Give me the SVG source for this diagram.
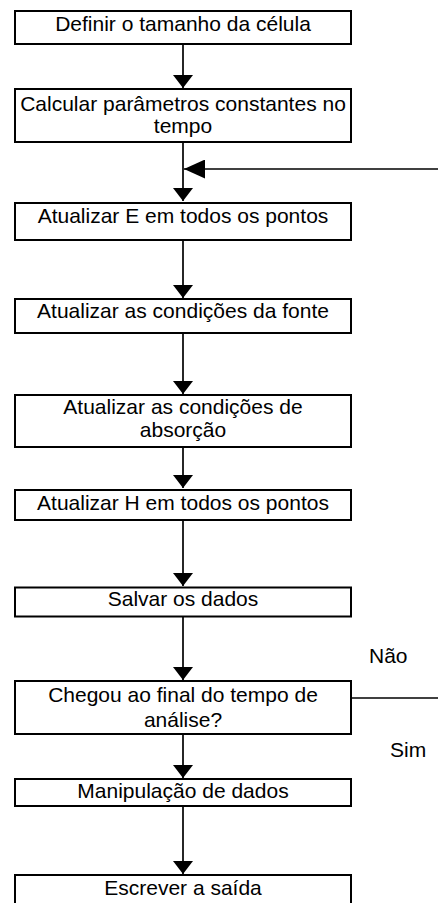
<svg xmlns="http://www.w3.org/2000/svg" width="438" height="903" viewBox="0 0 438 903">
<style>
.box{fill:#fff;stroke:#000;stroke-width:2}
.t{font-family:"Liberation Sans",Arial,sans-serif;font-size:21px;fill:#000;text-anchor:middle}
.l{font-family:"Liberation Sans",Arial,sans-serif;font-size:21px;fill:#000}
.c{stroke:#000;stroke-width:1.7;fill:none}
</style>
<defs>
<marker id="ah" viewBox="0 0 13 20" refX="13" refY="10" markerWidth="13" markerHeight="20" markerUnits="userSpaceOnUse" orient="auto"><path d="M0,0 L13,10 L0,20 z" fill="#000"/></marker>
<marker id="ahl" viewBox="0 0 21 19" refX="21" refY="9.5" markerWidth="21" markerHeight="19" markerUnits="userSpaceOnUse" orient="auto"><path d="M0,0 L21,9.5 L0,19 z" fill="#000"/></marker>
</defs>
<g id="connectors">
<line class="c" x1="183" y1="45" x2="183" y2="88" marker-end="url(#ah)"/>
<line class="c" x1="183" y1="143" x2="183" y2="201" marker-end="url(#ah)"/>
<line class="c" x1="440" y1="169" x2="184" y2="169" marker-end="url(#ahl)"/>
<line class="c" x1="183" y1="240" x2="183" y2="298" marker-end="url(#ah)"/>
<line class="c" x1="183" y1="333" x2="183" y2="394" marker-end="url(#ah)"/>
<line class="c" x1="183" y1="448" x2="183" y2="488" marker-end="url(#ah)"/>
<line class="c" x1="183" y1="521" x2="183" y2="586" marker-end="url(#ah)"/>
<line class="c" x1="183" y1="617" x2="183" y2="680" marker-end="url(#ah)"/>
<line class="c" x1="352" y1="698" x2="440" y2="698"/>
<line class="c" x1="183" y1="735" x2="183" y2="778" marker-end="url(#ah)"/>
<line class="c" x1="183" y1="807" x2="183" y2="874" marker-end="url(#ah)"/>
<text class="l" x="369" y="663">Não</text>
<text class="l" x="390" y="757">Sim</text>
</g>
<g id="n1"><rect class="box" x="15" y="11" width="336" height="33"/><text class="t" x="183" y="31">Definir o tamanho da célula</text></g>
<g id="n2"><rect class="box" x="15" y="89" width="336" height="53"/><text class="t" x="183" y="111">Calcular parâmetros constantes no</text><text class="t" x="183" y="133">tempo</text></g>
<g id="n3"><rect class="box" x="15" y="203" width="336" height="37"/><text class="t" x="183" y="223">Atualizar E em todos os pontos</text></g>
<g id="n4"><rect class="box" x="15" y="299" width="336" height="34"/><text class="t" x="183" y="318">Atualizar as condições da fonte</text></g>
<g id="n5"><rect class="box" x="15" y="395" width="336" height="52"/><text class="t" x="183" y="414">Atualizar as condições de</text><text class="t" x="183" y="437">absorção</text></g>
<g id="n6"><rect class="box" x="15" y="490" width="336" height="30"/><text class="t" x="183" y="510">Atualizar H em todos os pontos</text></g>
<g id="n7"><rect class="box" x="15" y="587.5" width="336" height="29"/><text class="t" x="183" y="606">Salvar os dados</text></g>
<g id="n8"><rect class="box" x="15" y="681" width="336" height="53"/><text class="t" x="183" y="702">Chegou ao final do tempo de</text><text class="t" x="183" y="727">análise?</text></g>
<g id="n9"><rect class="box" x="15" y="779" width="336" height="27"/><text class="t" x="183" y="798">Manipulação de dados</text></g>
<g id="n10"><rect class="box" x="15" y="875" width="336" height="40"/><text class="t" x="183" y="895">Escrever a saída</text></g>
</svg>
